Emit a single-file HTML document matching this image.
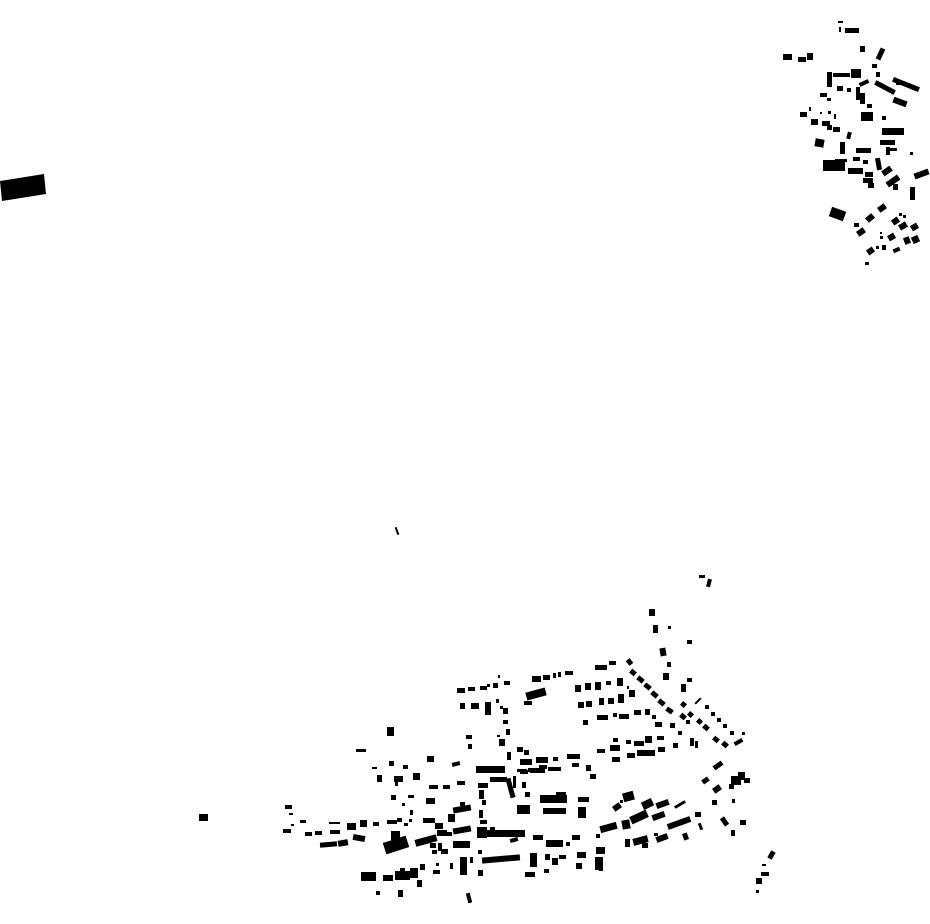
<!DOCTYPE html>
<html><head><meta charset="utf-8"><style>
html,body{margin:0;padding:0;background:#fff;width:930px;height:924px;overflow:hidden}
svg{display:block}
.r{transform-box:fill-box;transform-origin:center}
</style></head><body>
<svg width="930" height="924" viewBox="0 0 930 924" xmlns="http://www.w3.org/2000/svg" fill="#000">
<!-- lone building left -->
<polygon points="0,181 44,174 46,194 2,201"/>
<rect x="199" y="814" width="9" height="7"/>
<rect class="r" x="396" y="527" width="2" height="8" style="transform:rotate(-20deg)"/>
<!-- top right cluster -->
<rect x="838" y="21" width="5" height="2"/><rect x="839" y="27" width="2" height="5"/><rect x="845" y="28" width="14" height="5"/>
<rect x="783" y="54" width="9" height="6"/><rect x="798" y="57" width="8" height="5"/><rect x="807" y="53" width="6" height="7"/>
<rect x="860" y="46" width="5" height="6"/>
<rect class="r" x="878" y="48" width="5" height="12" style="transform:rotate(25deg)"/>
<rect x="872" y="64" width="5" height="4"/><rect x="876" y="72" width="4" height="5"/>
<rect x="827" y="72" width="5" height="15"/><rect x="833" y="73" width="17" height="4"/><rect x="851" y="69" width="10" height="9"/>
<rect class="r" x="859" y="81" width="10" height="4" style="transform:rotate(-25deg)"/>
<rect x="837" y="86" width="6" height="5"/><rect x="847" y="88" width="4" height="4"/>
<rect x="856" y="87" width="4" height="13"/><rect x="860" y="93" width="5" height="11"/>
<rect class="r" x="874" y="85" width="22" height="5" style="transform:rotate(28deg)"/>
<rect class="r" x="892" y="82" width="28" height="5" style="transform:rotate(22deg)"/>
<rect x="896" y="80" width="5" height="5"/>
<rect class="r" x="893" y="99" width="14" height="6" style="transform:rotate(20deg)"/>
<rect x="867" y="104" width="5" height="4"/>
<rect x="820" y="93" width="7" height="4"/><rect x="827" y="98" width="4" height="3"/>
<rect x="800" y="112" width="7" height="5"/><rect x="809" y="107" width="2" height="4"/>
<rect x="820" y="112" width="2" height="2"/><rect x="828" y="111" width="3" height="3"/><rect x="834" y="114" width="2" height="5"/>
<rect x="811" y="119" width="7" height="6"/><rect x="822" y="121" width="8" height="5"/><rect x="827" y="125" width="5" height="5"/><rect x="833" y="127" width="7" height="5"/>
<rect x="861" y="112" width="12" height="9"/><rect x="882" y="116" width="4" height="4"/>
<rect x="882" y="128" width="22" height="7"/>
<rect class="r" x="847" y="132" width="4" height="7" style="transform:rotate(15deg)"/>
<rect class="r" x="815" y="139" width="9" height="8" style="transform:rotate(10deg)"/>
<rect x="840" y="142" width="5" height="12"/><rect x="856" y="148" width="15" height="5"/>
<rect x="880" y="140" width="15" height="5"/><rect x="886" y="147" width="4" height="8"/><rect x="890" y="148" width="7" height="3"/><rect x="910" y="152" width="3" height="3"/>
<rect x="835" y="159" width="12" height="3"/><rect x="823" y="160" width="22" height="11"/>
<rect x="853" y="157" width="7" height="4"/><rect x="863" y="160" width="5" height="4"/>
<rect class="r" x="876" y="158" width="5" height="12" style="transform:rotate(-10deg)"/>
<rect class="r" x="882" y="168" width="10" height="6" style="transform:rotate(-35deg)"/>
<rect x="848" y="168" width="15" height="6"/><rect x="865" y="172" width="8" height="5"/><rect x="863" y="178" width="10" height="5"/><rect x="868" y="183" width="6" height="5"/>
<rect class="r" x="886" y="178" width="14" height="6" style="transform:rotate(-35deg)"/>
<rect x="893" y="184" width="5" height="6"/>
<rect class="r" x="914" y="171" width="15" height="6" style="transform:rotate(-20deg)"/>
<rect x="910" y="187" width="5" height="13"/>
<rect class="r" x="830" y="209" width="15" height="10" style="transform:rotate(20deg)"/>
<rect class="r" x="878" y="205" width="8" height="6" style="transform:rotate(-35deg)"/>
<rect class="r" x="866" y="215" width="8" height="6" style="transform:rotate(-40deg)"/>
<rect x="854" y="223" width="5" height="4"/>
<rect class="r" x="857" y="229" width="8" height="6" style="transform:rotate(-35deg)"/>
<rect x="880" y="232" width="2" height="2"/><rect x="880" y="236" width="3" height="3"/>
<rect class="r" x="888" y="234" width="7" height="6" style="transform:rotate(-30deg)"/>
<rect class="r" x="892" y="218" width="7" height="6" style="transform:rotate(-35deg)"/>
<rect x="899" y="213" width="3" height="3"/><rect x="903" y="215" width="3" height="3"/>
<rect class="r" x="899" y="223" width="8" height="6" style="transform:rotate(-30deg)"/>
<rect class="r" x="911" y="224" width="7" height="6" style="transform:rotate(-30deg)"/>
<rect class="r" x="904" y="237" width="6" height="7" style="transform:rotate(-20deg)"/>
<rect class="r" x="912" y="236" width="7" height="7" style="transform:rotate(-25deg)"/>
<rect class="r" x="893" y="248" width="7" height="4" style="transform:rotate(-25deg)"/>
<rect class="r" x="867" y="248" width="7" height="6" style="transform:rotate(-35deg)"/>
<rect x="876" y="246" width="3" height="3"/><rect x="882" y="245" width="4" height="5"/>
<rect x="865" y="262" width="4" height="3"/>
<!-- bottom cluster west/center -->
<rect x="457" y="688" width="8" height="5"/><rect x="468" y="687" width="7" height="4"/><rect x="480" y="686" width="7" height="4"/><rect x="487" y="684" width="3" height="3"/>
<rect x="493" y="683" width="5" height="5"/><rect x="498" y="675" width="2" height="3"/><rect x="504" y="681" width="6" height="4"/>
<rect x="460" y="703" width="5" height="6"/><rect x="471" y="703" width="8" height="6"/><rect x="485" y="702" width="6" height="13"/>
<rect x="496" y="699" width="3" height="4"/><rect x="500" y="706" width="3" height="3"/><rect x="503" y="708" width="5" height="6"/>
<rect x="503" y="720" width="5" height="4"/><rect x="506" y="729" width="4" height="6"/>
<rect x="387" y="727" width="7" height="9"/>
<rect x="466" y="735" width="6" height="4"/><rect x="468" y="744" width="4" height="5"/>
<rect x="499" y="739" width="6" height="7"/><rect x="497" y="735" width="3" height="2"/>
<rect x="356" y="749" width="10" height="3"/>
<rect x="427" y="756" width="7" height="6"/>
<rect x="389" y="761" width="5" height="5"/>
<rect class="r" x="452" y="762" width="8" height="4" style="transform:rotate(-15deg)"/>
<rect x="476" y="766" width="29" height="7"/>
<rect x="507" y="752" width="4" height="8"/><rect x="517" y="747" width="6" height="5"/><rect x="524" y="750" width="5" height="5"/>
<rect x="403" y="765" width="5" height="4"/><rect x="372" y="767" width="5" height="2"/>
<rect x="377" y="775" width="5" height="7"/><rect x="394" y="776" width="9" height="6"/><rect x="395" y="782" width="3" height="4"/><rect x="413" y="773" width="7" height="7"/>
<rect x="429" y="785" width="9" height="4"/><rect x="443" y="785" width="7" height="4"/><rect x="457" y="781" width="8" height="4"/>
<rect x="478" y="783" width="10" height="5"/><rect x="490" y="777" width="17" height="5"/>
<rect x="479" y="790" width="5" height="9"/><rect x="482" y="800" width="4" height="5"/><rect x="479" y="810" width="4" height="8"/><rect x="480" y="820" width="7" height="4"/>
<rect class="r" x="508" y="778" width="5" height="20" style="transform:rotate(-15deg)"/>
<rect x="513" y="776" width="3" height="12"/><rect x="517" y="769" width="10" height="3"/><rect x="528" y="768" width="8" height="4"/><rect x="539" y="765" width="8" height="4"/>
<rect x="391" y="795" width="5" height="5"/><rect x="408" y="795" width="6" height="3"/><rect x="402" y="803" width="3" height="3"/>
<rect x="426" y="798" width="9" height="6"/>
<rect x="460" y="802" width="5" height="4"/>
<rect class="r" x="453" y="806" width="18" height="6" style="transform:rotate(-10deg)"/>
<rect x="448" y="814" width="7" height="8"/>
<rect x="285" y="805" width="7" height="4"/><rect x="289" y="813" width="4" height="2"/><rect x="300" y="820" width="6" height="3"/><rect x="291" y="824" width="3" height="2"/>
<rect x="283" y="829" width="8" height="4"/><rect x="305" y="832" width="7" height="4"/><rect x="315" y="831" width="7" height="4"/>
<rect x="329" y="822" width="11" height="2"/><rect x="330" y="830" width="10" height="4"/>
<rect x="347" y="823" width="9" height="7"/><rect x="360" y="820" width="7" height="7"/><rect x="373" y="822" width="6" height="4"/>
<rect x="387" y="820" width="10" height="4"/><rect x="397" y="818" width="5" height="4"/><rect x="404" y="823" width="4" height="3"/><rect x="409" y="819" width="3" height="3"/><rect x="410" y="810" width="3" height="5"/>
<rect x="423" y="818" width="12" height="5"/><rect x="435" y="823" width="8" height="6"/>
<rect class="r" x="320" y="842" width="17" height="5" style="transform:rotate(-5deg)"/>
<rect class="r" x="338" y="840" width="10" height="6" style="transform:rotate(-10deg)"/>
<rect class="r" x="353" y="835" width="12" height="6" style="transform:rotate(10deg)"/>
<rect x="391" y="831" width="9" height="9"/>
<rect class="r" x="384" y="839" width="24" height="12" style="transform:rotate(-18deg)"/>
<rect class="r" x="415" y="837" width="22" height="7" style="transform:rotate(-15deg)"/>
<rect x="437" y="830" width="10" height="6"/><rect x="447" y="832" width="5" height="4"/>
<rect class="r" x="453" y="827" width="18" height="6" style="transform:rotate(-10deg)"/>
<rect x="430" y="843" width="6" height="5"/><rect x="432" y="850" width="5" height="4"/>
<rect x="438" y="843" width="4" height="8"/><rect x="441" y="849" width="7" height="5"/>
<rect x="453" y="841" width="17" height="7"/>
<rect x="477" y="827" width="10" height="11"/>
<rect x="487" y="830" width="38" height="7"/><rect x="490" y="827" width="5" height="4"/>
<rect class="r" x="510" y="838" width="8" height="4" style="transform:rotate(-15deg)"/>
<rect x="478" y="850" width="4" height="4"/>
<rect class="r" x="482" y="856" width="38" height="6" style="transform:rotate(-5deg)"/>
<rect x="460" y="857" width="7" height="18"/><rect x="470" y="857" width="3" height="6"/>
<rect x="478" y="870" width="5" height="6"/><rect x="450" y="863" width="3" height="6"/>
<rect x="433" y="870" width="7" height="4"/><rect x="436" y="863" width="3" height="3"/>
<rect x="420" y="864" width="5" height="6"/>
<rect x="361" y="872" width="15" height="9"/><rect x="383" y="875" width="10" height="6"/>
<rect x="395" y="871" width="15" height="9"/><rect x="400" y="868" width="5" height="3"/><rect x="410" y="868" width="8" height="10"/>
<rect x="417" y="880" width="5" height="7"/>
<rect x="376" y="891" width="4" height="4"/><rect x="398" y="890" width="5" height="7"/>
<rect class="r" x="467" y="893" width="4" height="10" style="transform:rotate(-15deg)"/>
<rect x="525" y="872" width="10" height="5"/>
<!-- east part -->
<rect x="699" y="575" width="6" height="3"/><rect class="r" x="707" y="579" width="4" height="8" style="transform:rotate(15deg)"/>
<rect x="649" y="609" width="6" height="7"/><rect x="653" y="625" width="5" height="8"/><rect x="668" y="626" width="3" height="3"/>
<rect x="687" y="640" width="5" height="4"/>
<rect class="r" x="660" y="648" width="6" height="8" style="transform:rotate(-10deg)"/>
<rect x="667" y="662" width="4" height="5"/><rect x="663" y="673" width="6" height="7"/>
<rect x="687" y="678" width="5" height="4"/><rect x="681" y="684" width="5" height="8"/>
<rect class="r" x="627" y="659" width="5" height="6" style="transform:rotate(-40deg)"/>
<rect class="r" x="630" y="670" width="6" height="5" style="transform:rotate(40deg)"/>
<rect class="r" x="637" y="677" width="7" height="5" style="transform:rotate(40deg)"/>
<rect class="r" x="644" y="684" width="7" height="5" style="transform:rotate(40deg)"/>
<rect class="r" x="651" y="692" width="7" height="5" style="transform:rotate(40deg)"/>
<rect class="r" x="658" y="700" width="7" height="5" style="transform:rotate(40deg)"/>
<rect class="r" x="666" y="708" width="7" height="5" style="transform:rotate(35deg)"/>
<rect class="r" x="680" y="714" width="6" height="5" style="transform:rotate(40deg)"/>
<rect x="686" y="720" width="4" height="4"/>
<rect class="r" x="681" y="702" width="5" height="5" style="transform:rotate(40deg)"/>
<rect class="r" x="688" y="712" width="5" height="5" style="transform:rotate(40deg)"/>
<rect class="r" x="697" y="697" width="2" height="8" style="transform:rotate(45deg)"/>
<rect x="705" y="705" width="4" height="4"/><rect x="711" y="712" width="4" height="4"/><rect x="717" y="718" width="4" height="4"/>
<rect x="723" y="724" width="4" height="4"/><rect x="730" y="731" width="4" height="4"/><rect x="742" y="732" width="3" height="3"/>
<rect class="r" x="697" y="719" width="5" height="5" style="transform:rotate(40deg)"/>
<rect class="r" x="703" y="725" width="6" height="5" style="transform:rotate(40deg)"/>
<rect class="r" x="713" y="737" width="6" height="5" style="transform:rotate(40deg)"/>
<rect class="r" x="722" y="742" width="6" height="5" style="transform:rotate(40deg)"/>
<rect class="r" x="734" y="740" width="9" height="4" style="transform:rotate(-30deg)"/>
<rect x="595" y="665" width="12" height="5"/><rect x="609" y="661" width="7" height="4"/>
<rect x="532" y="676" width="9" height="6"/><rect x="543" y="675" width="7" height="5"/><rect x="553" y="673" width="3" height="5"/><rect x="558" y="672" width="3" height="5"/><rect x="565" y="671" width="8" height="4"/>
<rect class="r" x="526" y="690" width="20" height="8" style="transform:rotate(-15deg)"/>
<rect x="524" y="701" width="8" height="4"/>
<rect x="575" y="685" width="6" height="7"/><rect x="585" y="683" width="6" height="7"/><rect x="595" y="682" width="6" height="8"/><rect x="606" y="681" width="5" height="4"/><rect x="617" y="678" width="6" height="8"/><rect x="627" y="686" width="2" height="3"/>
<rect x="578" y="702" width="6" height="6"/><rect x="586" y="701" width="6" height="6"/><rect x="599" y="698" width="5" height="7"/><rect x="608" y="698" width="6" height="6"/><rect x="618" y="694" width="6" height="9"/><rect x="629" y="690" width="6" height="7"/>
<rect x="583" y="720" width="5" height="5"/><rect x="597" y="715" width="11" height="5"/><rect x="613" y="713" width="4" height="4"/><rect x="619" y="714" width="10" height="5"/><rect x="634" y="710" width="7" height="5"/>
<rect x="645" y="709" width="5" height="6"/><rect x="652" y="715" width="4" height="4"/><rect x="655" y="722" width="7" height="5"/><rect x="670" y="723" width="5" height="5"/><rect x="678" y="731" width="4" height="4"/>
<rect x="690" y="738" width="4" height="8"/><rect x="695" y="741" width="3" height="7"/>
<rect x="597" y="749" width="8" height="4"/><rect x="610" y="745" width="10" height="6"/><rect x="613" y="738" width="5" height="4"/><rect x="626" y="740" width="5" height="4"/>
<rect x="634" y="741" width="10" height="5"/><rect x="645" y="736" width="7" height="7"/><rect x="657" y="736" width="7" height="4"/><rect x="673" y="743" width="5" height="5"/>
<rect x="612" y="757" width="8" height="5"/><rect x="627" y="753" width="8" height="5"/><rect x="637" y="750" width="18" height="6"/><rect x="658" y="747" width="7" height="5"/>
<rect x="567" y="754" width="13" height="5"/><rect x="572" y="763" width="7" height="4"/><rect x="553" y="757" width="5" height="4"/>
<rect x="536" y="757" width="12" height="6"/><rect x="520" y="759" width="12" height="6"/>
<rect x="530" y="768" width="15" height="5"/><rect x="548" y="767" width="13" height="4"/><rect x="520" y="770" width="8" height="4"/>
<rect x="586" y="765" width="5" height="6"/><rect x="590" y="774" width="6" height="5"/>
<rect class="r" x="713" y="763" width="10" height="5" style="transform:rotate(-35deg)"/>
<rect class="r" x="702" y="778" width="7" height="5" style="transform:rotate(-35deg)"/>
<rect class="r" x="713" y="786" width="8" height="6" style="transform:rotate(-35deg)"/>
<rect x="731" y="776" width="10" height="9"/><rect x="738" y="772" width="7" height="8"/><rect x="744" y="778" width="6" height="5"/><rect x="729" y="784" width="5" height="5"/>
<rect x="712" y="800" width="5" height="5"/><rect x="732" y="799" width="3" height="4"/>
<rect class="r" x="722" y="817" width="5" height="9" style="transform:rotate(-35deg)"/>
<rect x="731" y="830" width="4" height="6"/><rect x="740" y="820" width="6" height="5"/>
<rect class="r" x="769" y="851" width="5" height="8" style="transform:rotate(30deg)"/>
<rect x="762" y="864" width="4" height="2"/><rect x="761" y="872" width="8" height="4"/><rect x="756" y="878" width="6" height="6"/><rect x="756" y="890" width="3" height="3"/>
<rect x="540" y="795" width="27" height="8"/><rect x="556" y="792" width="10" height="11"/>
<rect x="543" y="808" width="23" height="6"/>
<rect x="578" y="797" width="11" height="5"/><rect x="578" y="807" width="8" height="11"/>
<rect x="517" y="805" width="13" height="9"/><rect x="525" y="792" width="5" height="5"/><rect x="522" y="782" width="4" height="6"/>
<rect class="r" x="613" y="804" width="8" height="6" style="transform:rotate(-35deg)"/><rect x="620" y="800" width="3" height="3"/>
<rect class="r" x="623" y="792" width="11" height="9" style="transform:rotate(-15deg)"/>
<rect class="r" x="642" y="800" width="11" height="8" style="transform:rotate(-25deg)"/>
<rect class="r" x="656" y="801" width="13" height="6" style="transform:rotate(-20deg)"/>
<rect class="r" x="674" y="803" width="12" height="3" style="transform:rotate(-30deg)"/>
<rect class="r" x="600" y="824" width="17" height="7" style="transform:rotate(-15deg)"/>
<rect class="r" x="622" y="820" width="8" height="9" style="transform:rotate(-10deg)"/>
<rect class="r" x="630" y="813" width="18" height="8" style="transform:rotate(-25deg)"/>
<rect class="r" x="652" y="813" width="13" height="6" style="transform:rotate(-20deg)"/>
<rect class="r" x="667" y="820" width="24" height="6" style="transform:rotate(-20deg)"/>
<rect x="695" y="812" width="6" height="5"/><rect class="r" x="699" y="823" width="3" height="7" style="transform:rotate(-20deg)"/>
<rect class="r" x="683" y="833" width="5" height="7" style="transform:rotate(-20deg)"/>
<rect x="625" y="839" width="5" height="8"/>
<rect class="r" x="633" y="837" width="15" height="7" style="transform:rotate(-15deg)"/><rect x="642" y="843" width="6" height="5"/>
<rect class="r" x="656" y="835" width="12" height="6" style="transform:rotate(-20deg)"/>
<rect x="654" y="833" width="4" height="3"/>
<rect x="596" y="834" width="4" height="4"/>
<rect x="572" y="835" width="8" height="5"/><rect x="533" y="835" width="10" height="5"/><rect x="546" y="840" width="17" height="7"/><rect x="566" y="842" width="4" height="4"/>
<rect x="530" y="853" width="7" height="14"/><rect x="545" y="854" width="5" height="6"/><rect x="552" y="858" width="6" height="7"/><rect x="559" y="855" width="7" height="4"/>
<rect x="577" y="852" width="9" height="6"/><rect x="576" y="863" width="6" height="6"/>
<rect x="596" y="847" width="9" height="7"/><rect x="595" y="857" width="8" height="13"/><rect x="599" y="868" width="4" height="3"/>
<rect x="544" y="869" width="5" height="4"/>
</svg>
</body></html>
